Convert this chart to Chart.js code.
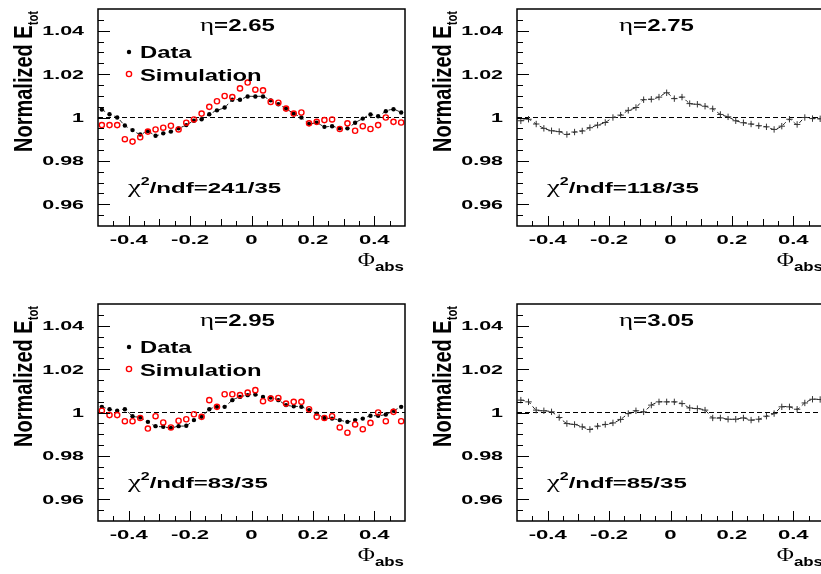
<!DOCTYPE html>
<html>
<head>
<meta charset="utf-8">
<script src="https://cdn.jsdelivr.net/npm/chart.js@4.4.1/dist/chart.umd.min.js"></script>
<style>
  html, body { margin: 0; padding: 0; background: #fff; width: 821px; height: 574px; overflow: hidden; position: relative; }
  canvas { position: absolute; }
</style>
</head>
<body>
<canvas id="c0" width="420" height="290" style="left:0px;top:0px"></canvas>
<canvas id="c1" width="420" height="290" style="left:419px;top:0px"></canvas>
<canvas id="c2" width="420" height="290" style="left:0px;top:295px"></canvas>
<canvas id="c3" width="420" height="290" style="left:419px;top:295px"></canvas>
<script>
// bin centres of Phi_abs
const phi = [-0.4875, -0.4625, -0.4375, -0.4125, -0.3875, -0.3625, -0.3375, -0.3125, -0.2875, -0.2625,
             -0.2375, -0.2125, -0.1875, -0.1625, -0.1375, -0.1125, -0.0875, -0.0625, -0.0375, -0.0125,
              0.0125,  0.0375,  0.0625,  0.0875,  0.1125,  0.1375,  0.1625,  0.1875,  0.2125,  0.2375,
              0.2625,  0.2875,  0.3125,  0.3375,  0.3625,  0.3875,  0.4125,  0.4375,  0.4625,  0.4875];

// eta = 2.65
const data265 = [1.0037, 1.0015, 1.0000, 0.9963, 0.9942, 0.9922, 0.9937, 0.9916, 0.9927, 0.9935,
                 0.9950, 0.9965, 0.9985, 0.9992, 1.0015, 1.0033, 1.0046, 1.0082, 1.0082, 1.0097,
                 1.0097, 1.0097, 1.0079, 1.0061, 1.0041, 1.0018, 1.0000, 0.9970, 0.9976, 0.9957,
                 0.9960, 0.9950, 0.9950, 0.9976, 0.9995, 1.0014, 1.0006, 1.0029, 1.0038, 1.0023];
const sim265  = [0.9965, 0.9965, 0.9965, 0.9900, 0.9889, 0.9909, 0.9935, 0.9945, 0.9953, 0.9962,
                 0.9945, 0.9976, 0.9991, 1.0018, 1.0049, 1.0075, 1.0099, 1.0094, 1.0134, 1.0161,
                 1.0128, 1.0125, 1.0072, 1.0068, 1.0041, 1.0018, 1.0023, 0.9973, 0.9980, 0.9988,
                 0.9991, 0.9947, 0.9973, 0.9939, 0.9960, 0.9947, 0.9965, 1.0000, 0.9980, 0.9977];
// eta = 2.75
const data275 = [0.9985, 0.9992, 0.9970, 0.9950, 0.9939, 0.9935, 0.9922, 0.9933, 0.9938, 0.9953,
                 0.9965, 0.9977, 1.0000, 1.0011, 1.0033, 1.0046, 1.0082, 1.0084, 1.0094, 1.0114,
                 1.0087, 1.0094, 1.0064, 1.0061, 1.0052, 1.0040, 1.0014, 1.0003, 0.9985, 0.9976,
                 0.9970, 0.9962, 0.9957, 0.9945, 0.9960, 0.9992, 0.9968, 1.0000, 0.9995, 0.9994];
// eta = 2.95
const data295 = [1.0026, 1.0015, 1.0008, 1.0015, 0.9983, 0.9977, 0.9957, 0.9937, 0.9934, 0.9929,
                 0.9937, 0.9939, 0.9965, 0.9980, 1.0015, 1.0026, 1.0026, 1.0057, 1.0072, 1.0080,
                 1.0083, 1.0072, 1.0069, 1.0057, 1.0034, 1.0029, 1.0026, 1.0011, 0.9995, 0.9975,
                 0.9972, 0.9965, 0.9957, 0.9965, 0.9972, 0.9985, 0.9985, 0.9991, 1.0008, 1.0026];
const sim295  = [1.0008, 0.9988, 0.9988, 0.9960, 0.9960, 0.9975, 0.9926, 0.9983, 0.9954, 0.9931,
                 0.9962, 0.9969, 0.9992, 0.9980, 1.0057, 1.0026, 1.0084, 1.0084, 1.0080, 1.0092,
                 1.0103, 1.0052, 1.0064, 1.0067, 1.0041, 1.0049, 1.0049, 1.0015, 0.9980, 0.9975,
                 0.9983, 0.9931, 0.9907, 0.9945, 0.9923, 0.9952, 1.0000, 0.9960, 1.0003, 0.9960];
// eta = 3.05
const data305 = [1.0057, 1.0049, 1.0011, 1.0008, 1.0003, 0.9977, 0.9949, 0.9945, 0.9934, 0.9922,
                 0.9937, 0.9945, 0.9952, 0.9968, 0.9995, 1.0008, 1.0003, 1.0034, 1.0049, 1.0049,
                 1.0049, 1.0041, 1.0021, 1.0018, 1.0011, 0.9975, 0.9975, 0.9969, 0.9969, 0.9975,
                 0.9965, 0.9969, 0.9983, 0.9995, 1.0026, 1.0026, 1.0015, 1.0044, 1.0061, 1.0060];

const etaLabels = ['2.65', '2.75', '2.95', '3.05'];
const chiLabels = ['241/35', '118/35', '83/35', '85/35'];

// axis ticks
const xLabels = [-0.4, -0.2, 0, 0.2, 0.4];
const yLabels = [0.96, 0.98, 1, 1.02, 1.04];
const xTicks = [-0.45, -0.4, -0.35, -0.3, -0.25, -0.2, -0.15, -0.1, -0.05, 0,
                 0.05, 0.1, 0.15, 0.2, 0.25, 0.3, 0.35, 0.4, 0.45];
const yTicks = [0.955, 0.96, 0.965, 0.97, 0.975, 0.98, 0.985, 0.99, 0.995, 1,
                1.005, 1.01, 1.015, 1.02, 1.025, 1.03, 1.035, 1.04, 1.045];
const refLine = [1, 1];
const refX = [-0.5, 0.5];

const SANS = '"Liberation Sans", Arial, sans-serif';
const SERIF = '"Liberation Serif", "Times New Roman", serif';

function isIn(v, arr) {
    return arr.some(a => Math.abs(a - v) < 1e-6);
}

// draw runs of text stretched horizontally like the original figure
function drawRuns(ctx, runs, x, y, sx, align) {
    ctx.save();
    ctx.translate(x, y);
    ctx.scale(sx, 1);
    let w = 0;
    runs.forEach(r => { ctx.font = r.f; w += ctx.measureText(r.t).width; });
    let cx = 0;
    if (align == 'right') cx = -w;
    if (align == 'center') cx = -w / 2;
    runs.forEach(r => {
        ctx.font = r.f;
        ctx.fillText(r.t, cx, r.dy || 0);
        cx += ctx.measureText(r.t).width;
    });
    ctx.restore();
}

const rootStyle = {
    id: 'rootStyle',
    afterDraw(chart, args, opts) {
        const ctx = chart.ctx;
        const a = chart.chartArea;
        const xs = chart.scales.x;
        const ys = chart.scales.y;
        ctx.save();
        ctx.fillStyle = '#000';
        ctx.strokeStyle = '#000';
        ctx.textBaseline = 'alphabetic';

        // frame
        ctx.lineWidth = 1.5;
        ctx.strokeRect(a.left, a.top, a.right - a.left, a.bottom - a.top);

        // inward ticks
        ctx.lineWidth = 1;
        ctx.beginPath();
        yTicks.forEach(v => {
            const py = Math.round(ys.getPixelForValue(v)) + 0.5;
            const len = isIn(v, yLabels) ? 12 : 6;
            ctx.moveTo(a.left, py);
            ctx.lineTo(a.left + len, py);
        });
        xTicks.forEach(v => {
            const px = Math.round(xs.getPixelForValue(v)) + 0.5;
            let len = 5;
            if (isIn(v, xLabels)) len = 10;
            else if (Math.abs(v * 10 - Math.round(v * 10)) < 1e-6) len = 7;
            ctx.moveTo(px, a.bottom);
            ctx.lineTo(px, a.bottom - len);
        });
        ctx.stroke();

        // tick labels
        const tickFont = 'bold 13px ' + SANS;
        yLabels.forEach(v => {
            const txt = v == 1 ? '1' : v.toFixed(2);
            drawRuns(ctx, [{t: txt, f: tickFont}], a.left - 14, ys.getPixelForValue(v) + 4.5, 1.65, 'right');
        });
        xLabels.forEach(v => {
            const txt = v == 0 ? '0' : v.toFixed(1);
            drawRuns(ctx, [{t: txt, f: tickFont}], xs.getPixelForValue(v), a.bottom + 18, 1.7, 'center');
        });

        // axis titles
        drawRuns(ctx, [{t: '\u03A6', f: '18px ' + SERIF}, {t: 'abs', f: 'bold 13px ' + SANS, dy: 5}],
                 a.right - 1, a.bottom + 40, 1.3, 'right');
        ctx.save();
        ctx.translate(32, 152);
        ctx.rotate(-Math.PI / 2);
        ctx.scale(0.8, 1);
        drawRuns(ctx, [{t: 'Normalized E', f: 'bold 25px ' + SANS}, {t: 'tot', f: 'bold 14px ' + SANS, dy: 6}],
                 0, 0, 1, 'left');
        ctx.restore();

        // eta and chi2 labels
        drawRuns(ctx, [{t: '\u03B7', f: '18px ' + SERIF}, {t: '=' + opts.eta, f: 'bold 16px ' + SANS}],
                 a.left + 102, a.top + 22, 1.5, 'left');
        drawRuns(ctx, [{t: '\u03C7', f: '18px ' + SERIF}, {t: '2', f: 'bold 10px ' + SANS, dy: -8},
                       {t: '/ndf=' + opts.chi, f: 'bold 15px ' + SANS}],
                 a.left + 30, a.top + 184, 1.6, 'left');

        // legend
        if (opts.legend) {
            ctx.beginPath();
            ctx.arc(a.left + 31, a.top + 43, 2.2, 0, Math.PI * 2);
            ctx.fill();
            drawRuns(ctx, [{t: 'Data', f: 'bold 17px ' + SANS}], a.left + 42, a.top + 49, 1.4, 'left');
            ctx.strokeStyle = '#ff0000';
            ctx.lineWidth = 1.4;
            ctx.beginPath();
            ctx.arc(a.left + 31, a.top + 65, 2.6, 0, Math.PI * 2);
            ctx.stroke();
            drawRuns(ctx, [{t: 'Simulation', f: 'bold 17px ' + SANS}], a.left + 42, a.top + 72, 1.4, 'left');
        }
        ctx.restore();
    }
};

function pts(ys) {
    return phi.map((x, i) => ({x: x, y: ys[i]}));
}

function makePanel(id, k, data, sim) {
    let datasets = [];
    if (sim) {
        datasets.push({
            label: 'Simulation',
            data: pts(sim),
            showLine: false,
            pointStyle: 'circle',
            pointRadius: 2.6,
            pointBorderColor: '#ff0000',
            pointBackgroundColor: 'rgba(255,255,255,0)',
            pointBorderWidth: 1.4
        });
    }
    datasets.push({
        label: 'Data',
        data: pts(data),
        showLine: true,
        tension: 0.25,
        borderColor: '#222',
        borderWidth: 1,
        borderDash: [4, 3],
        pointStyle: sim ? 'circle' : 'cross',
        pointRadius: sim ? 2.2 : 3.2,
        pointBackgroundColor: '#000',
        pointBorderColor: sim ? '#000' : '#333',
        pointBorderWidth: sim ? 0 : 1
    });
    datasets.push({
        label: 'ref',
        data: refX.map((x, i) => ({x: x, y: refLine[i]})),
        showLine: true,
        borderColor: '#000',
        borderWidth: 1,
        borderDash: [5, 3],
        pointRadius: 0
    });

    new Chart(id, {
        type: 'scatter',
        data: {datasets: datasets},
        plugins: [rootStyle],
        options: {
            responsive: false,
            animation: false,
            devicePixelRatio: 1,
            layout: {padding: {left: 98, top: 9, right: 15, bottom: 64}},
            plugins: {
                legend: {display: false},
                tooltip: {enabled: false},
                rootStyle: {eta: etaLabels[k], chi: chiLabels[k], legend: !!sim}
            },
            scales: {
                x: {
                    type: 'linear', min: -0.5, max: 0.5,
                    ticks: {display: false},
                    grid: {display: false},
                    border: {display: false},
                    afterFit(s) { s.height = 0; }
                },
                y: {
                    type: 'linear', min: 0.95, max: 1.05,
                    ticks: {display: false},
                    grid: {display: false},
                    border: {display: false},
                    afterFit(s) { s.width = 0; }
                }
            }
        }
    });
}

makePanel('c0', 0, data265, sim265);
makePanel('c1', 1, data275);
makePanel('c2', 2, data295, sim295);
makePanel('c3', 3, data305);
</script>
</body>
</html>
